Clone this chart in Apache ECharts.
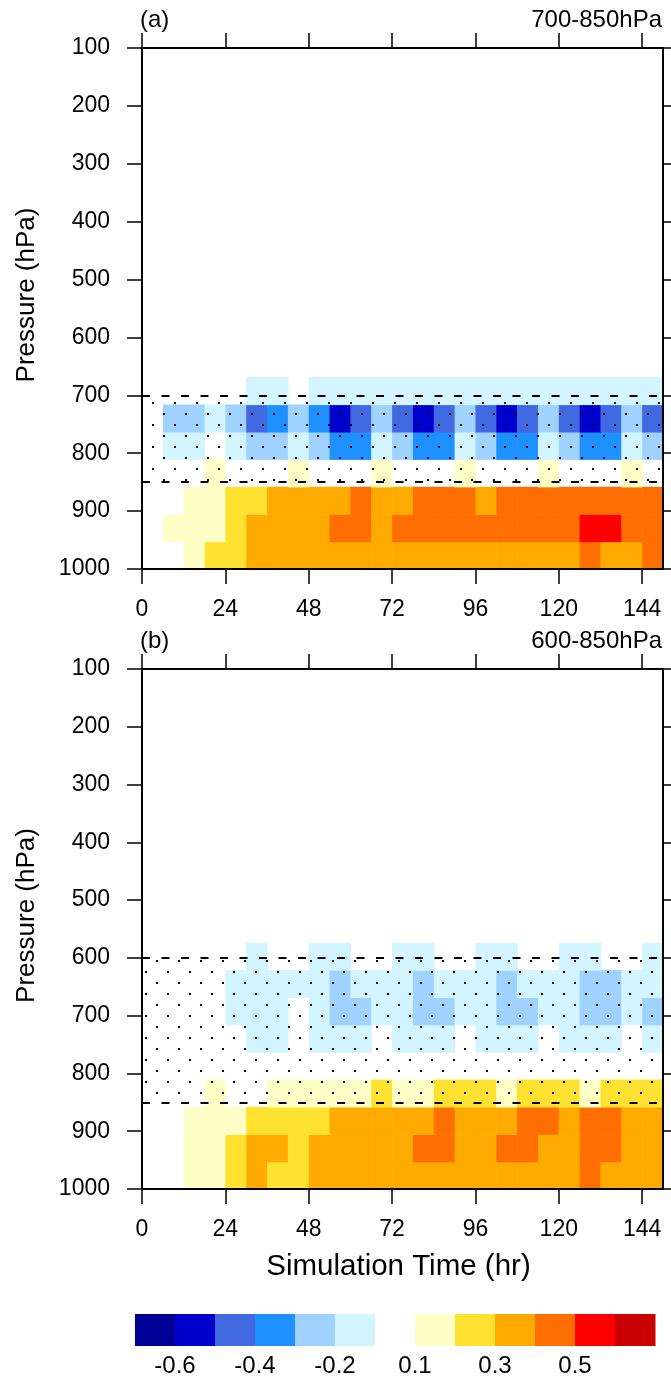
<!DOCTYPE html>
<html><head><meta charset="utf-8">
<script src="https://cdn.jsdelivr.net/npm/echarts@6/dist/echarts.min.js"></script>
<style>html,body{margin:0;padding:0;background:#fff}#c{width:671px;height:1378px}</style>
</head><body><div id="c"></div>
<script>
// ---------- data ----------
const times = [0,6,12,18,24,30,36,42,48,54,60,66,72,78,84,90,96,102,108,114,120,126,132,138,144];
const stepHours = 6;
const timeRange = [0, 150];
const xTickValues = [0,24,48,72,96,120,144];
const yTickValues = [100,200,300,400,500,600,700,800,900,1000];
// pressure boundaries of the rows (bottom row first)
const pressureEdges = [1000, 952.6, 905.3, 857.9, 810.5, 763.2, 715.8, 668.4, 621.1, 573.7];
const colorLevels = [-0.6,-0.5,-0.4,-0.3,-0.2,-0.1,0.1,0.2,0.3,0.4,0.5,0.6];
const colorFills = ['#000096','#0000CD','#4169E1','#1E90FF','#A0D2FF','#D2F5FF','#FFFFFF','#FFFFC8','#FFE132','#FFAA00','#FF6E00','#FF0000','#C80000'];
const colorbarLabelSteps = [1,3,5,7,9,11];

// panel (a): rows from 1000 hPa upward, columns = times
const a_row0 = [0,0,0.15,0.25,0.25,0.35,0.35,0.35,0.35,0.35,0.35,0.35,0.35,0.35,0.35,0.35,0.35,0.35,0.35,0.35,0.35,0.45,0.35,0.35,0.45];
const a_row1 = [0,0.15,0.15,0.15,0.25,0.35,0.35,0.35,0.35,0.45,0.45,0.35,0.45,0.45,0.45,0.45,0.45,0.45,0.45,0.45,0.45,0.55,0.55,0.45,0.45];
const a_row2 = [0,0,0.15,0.15,0.25,0.25,0.35,0.35,0.35,0.35,0.45,0.35,0.35,0.45,0.45,0.45,0.35,0.45,0.45,0.45,0.45,0.45,0.45,0.45,0.45];
const a_row3 = [0,0,0,0.15,0,0,0,0.15,0,0,0,0.15,0,0,0,0.15,0,0,0,0.15,0,0,0,0.15,0];
const a_row4 = [0,-0.15,-0.15,0,-0.15,-0.25,-0.25,-0.15,-0.25,-0.35,-0.35,-0.15,-0.25,-0.35,-0.35,-0.15,-0.25,-0.35,-0.35,-0.15,-0.25,-0.35,-0.35,-0.15,-0.25];
const a_row5 = [0,-0.25,-0.25,-0.15,-0.25,-0.45,-0.35,-0.25,-0.35,-0.55,-0.45,-0.25,-0.45,-0.55,-0.45,-0.25,-0.45,-0.55,-0.45,-0.25,-0.45,-0.55,-0.45,-0.25,-0.45];
const a_row6 = [0,0,0,0,0,-0.15,-0.15,0,-0.15,-0.15,-0.15,-0.15,-0.15,-0.15,-0.15,-0.15,-0.15,-0.15,-0.15,-0.15,-0.15,-0.15,-0.15,-0.15,-0.15];

// panel (b)
const b_row0 = [0,0,0.15,0.15,0.25,0.35,0.25,0.25,0.35,0.35,0.35,0.35,0.35,0.35,0.35,0.35,0.35,0.35,0.35,0.35,0.35,0.45,0.35,0.35,0.35];
const b_row1 = [0,0,0.15,0.15,0.25,0.35,0.35,0.25,0.35,0.35,0.35,0.35,0.35,0.45,0.45,0.35,0.35,0.45,0.45,0.35,0.35,0.45,0.45,0.35,0.35];
const b_row2 = [0,0,0.15,0.15,0.15,0.25,0.25,0.25,0.25,0.35,0.35,0.35,0.35,0.35,0.45,0.35,0.35,0.35,0.45,0.45,0.35,0.45,0.45,0.35,0.35];
const b_row3 = [0,0,0,0.15,0,0,0.15,0.15,0.15,0.15,0.15,0.25,0.15,0.15,0.25,0.25,0.25,0.15,0.25,0.25,0.25,0.15,0.25,0.25,0.25];
const b_row4 = [0,0,0,0,0,0,0,0,0,0,0,0,0,0,0,0,0,0,0,0,0,0,0,0,0];
const b_row5 = [0,0,0,0,0,-0.15,-0.15,0,-0.15,-0.15,-0.15,0,-0.15,-0.15,-0.15,0,-0.15,-0.15,-0.15,0,-0.15,-0.15,-0.15,0,-0.15];
const b_row6 = [0,0,0,0,-0.15,-0.15,-0.15,0,-0.15,-0.25,-0.25,-0.15,-0.15,-0.25,-0.25,-0.15,-0.15,-0.25,-0.25,-0.15,-0.15,-0.25,-0.25,-0.15,-0.25];
const b_row7 = [0,0,0,0,-0.15,-0.15,-0.15,-0.15,-0.15,-0.25,-0.15,-0.15,-0.15,-0.25,-0.15,-0.15,-0.15,-0.25,-0.15,-0.15,-0.15,-0.25,-0.25,-0.15,-0.15];
const b_row8 = [0,0,0,0,0,-0.15,0,0,-0.15,-0.15,0,0,-0.15,-0.15,0,0,-0.15,-0.15,0,0,-0.15,-0.15,0,0,-0.15];

// stippled layers (hPa) and their bounding dashed lines
const layerA = [700, 850];
const layerB = [600, 850];

// ---------- build ----------
const FONT = 'Liberation Sans, Arial, Helvetica, sans-serif';
function buildCells(rows) {
  const out = [];
  rows.forEach((row, r) => {
    row.forEach((v, i) => {
      if (v !== 0) out.push([times[i], times[i] + stepHours, pressureEdges[r + 1], pressureEdges[r], v]);
    });
  });
  return out;
}
const cellsA = buildCells([a_row0,a_row1,a_row2,a_row3,a_row4,a_row5,a_row6]);
const cellsB = buildCells([b_row0,b_row1,b_row2,b_row3,b_row4,b_row5,b_row6,b_row7,b_row8]);

function fillFor(v) {
  let k = 0;
  for (let j = 0; j < colorLevels.length; j++) if (colorLevels[j] <= v) k = j + 1;
  return colorFills[k];
}
function heatRender(params, api) {
  const a = api.coord([api.value(0), api.value(2)]);
  const b = api.coord([api.value(1), api.value(3)]);
  return {type: 'rect', shape: {x: a[0], y: a[1], width: b[0] - a[0] + 0.6, height: b[1] - a[1] + 0.6},
          style: {fill: fillFor(api.value(4))}};
}
function makeStipple(ox, oy) {
  const c = document.createElement('canvas');
  c.width = 22; c.height = 22;
  const g = c.getContext('2d');
  g.fillStyle = '#000';
  g.fillRect(ox, oy, 2, 2);
  g.fillRect((ox + 11) % 22, (oy + 11) % 22, 2, 2);
  return c;
}
function stippleRender(pattern) {
  return function (params, api) {
    const a = api.coord([timeRange[0], api.value(0)]);
    const b = api.coord([timeRange[1], api.value(1)]);
    return {type: 'rect', shape: {x: a[0], y: a[1], width: b[0] - a[0], height: b[1] - a[1]},
            style: {fill: {image: pattern, repeat: 'repeat'}}};
  };
}

const axisLine = {show: true, onZero: false, lineStyle: {color: '#000', width: 2}};
const axisTick = {show: true, inside: false, length: 15, lineStyle: {color: '#000', width: 1.5}};
const labelStyle = {color: '#000', fontSize: 23, fontFamily: FONT};

function xBottom(grid, withName) {
  const ax = {type: 'value', gridIndex: grid, position: 'bottom', min: timeRange[0], max: timeRange[1], z: 10,
    axisLine, axisTick: Object.assign({customValues: xTickValues}, axisTick),
    axisLabel: Object.assign({customValues: xTickValues, margin: 29, formatter: v => String(v)}, labelStyle),
    splitLine: {show: false}};
  if (withName) {
    ax.name = 'Simulation Time (hr)';
    ax.nameLocation = 'middle';
    ax.nameGap = 63;
    ax.nameMoveOverlap = false;
    ax.nameTextStyle = {color: '#000', fontSize: 29.5, fontFamily: FONT, padding: [0, 8, 0, 0]};
  }
  return ax;
}
function xTop(grid) {
  return {type: 'value', gridIndex: grid, position: 'top', min: timeRange[0], max: timeRange[1], z: 10,
    axisLine, axisTick: Object.assign({customValues: xTickValues}, axisTick),
    axisLabel: {show: false}, splitLine: {show: false}};
}
function yLeft(grid) {
  return {type: 'value', gridIndex: grid, position: 'left', inverse: true, min: 100, max: 1000, interval: 100, z: 10,
    axisLine, axisTick: Object.assign({customValues: yTickValues}, axisTick),
    axisLabel: Object.assign({customValues: yTickValues, margin: 32, formatter: v => String(v)}, labelStyle),
    splitLine: {show: false},
    name: 'Pressure (hPa)', nameLocation: 'middle', nameGap: 102, nameMoveOverlap: false,
    nameTextStyle: {color: '#000', fontSize: 26, fontFamily: FONT, padding: [0, 0, 0, 27]}};
}
function yRight(grid) {
  return {type: 'value', gridIndex: grid, position: 'right', inverse: true, min: 100, max: 1000, interval: 100, z: 10,
    axisLine, axisTick: Object.assign({customValues: yTickValues}, axisTick),
    axisLabel: {show: false}, splitLine: {show: false}};
}
const titleStyle = {color: '#000', fontSize: 24, fontWeight: 'normal', fontFamily: FONT};

const chart = echarts.init(document.getElementById('c'), null, {renderer: 'canvas'});
chart.setOption({
  animation: false,
  backgroundColor: '#fff',
  title: [
    {text: '(a)', left: 140, top: 8, padding: 0, textStyle: titleStyle},
    {text: '700-850hPa', right: 9, top: 8, padding: 0, textStyle: titleStyle},
    {text: '(b)', left: 140, top: 629, padding: 0, textStyle: titleStyle},
    {text: '600-850hPa', right: 9, top: 629, padding: 0, textStyle: titleStyle}
  ],
  grid: [
    {left: 142, top: 48, width: 521, height: 521, outerBoundsMode: 'none', containLabel: false},
    {left: 142, top: 669, width: 521, height: 520, outerBoundsMode: 'none', containLabel: false},
    {left: 135, top: 1314, width: 520, height: 32, outerBoundsMode: 'none', containLabel: false}
  ],
  xAxis: [
    xBottom(0, false), xTop(0), xBottom(1, true), xTop(1),
    {type: 'value', gridIndex: 2, min: 0, max: colorFills.length, position: 'bottom',
     axisLine: {show: false}, axisTick: {show: false}, splitLine: {show: false},
     axisLabel: Object.assign({customValues: colorbarLabelSteps, margin: 8,
       formatter: v => String(colorLevels[v - 1])}, labelStyle, {fontSize: 24})}
  ],
  yAxis: [
    yLeft(0), yRight(0), yLeft(1), yRight(1),
    {type: 'value', gridIndex: 2, min: 0, max: 1, show: false}
  ],
  series: [
    {type: 'custom', xAxisIndex: 0, yAxisIndex: 0, clip: true, renderItem: heatRender,
     encode: {x: [0, 1], y: [2, 3]}, data: cellsA, silent: true},
    {type: 'custom', xAxisIndex: 0, yAxisIndex: 0, clip: true, renderItem: stippleRender(makeStipple(20, 6)),
     encode: {y: [0, 1]}, data: [layerA], silent: true,
     markLine: {silent: true, symbol: ['none', 'none'], label: {show: false},
       lineStyle: {color: '#000', width: 2, type: [8, 11.5]},
       data: [{yAxis: layerA[0]}, {yAxis: layerA[1]}]}},
    {type: 'custom', xAxisIndex: 2, yAxisIndex: 2, clip: true, renderItem: heatRender,
     encode: {x: [0, 1], y: [2, 3]}, data: cellsB, silent: true},
    {type: 'custom', xAxisIndex: 2, yAxisIndex: 2, clip: true, renderItem: stippleRender(makeStipple(2, 14)),
     encode: {y: [0, 1]}, data: [layerB], silent: true,
     markLine: {silent: true, symbol: ['none', 'none'], label: {show: false},
       lineStyle: {color: '#000', width: 2, type: [8, 11.5]},
       data: [{yAxis: layerB[0]}, {yAxis: layerB[1]}]}},
    {type: 'custom', xAxisIndex: 4, yAxisIndex: 4, clip: false, silent: true,
     data: colorFills.map((c, i) => [i, i + 1]),
     encode: {x: [0, 1]},
     renderItem: function (params, api) {
       const a = api.coord([api.value(0), 1]);
       const b = api.coord([api.value(1), 0]);
       return {type: 'rect', shape: {x: a[0], y: a[1], width: b[0] - a[0] + 0.5, height: b[1] - a[1]},
               style: {fill: colorFills[params.dataIndex]}};
     }}
  ]
});
</script>
</body></html>
